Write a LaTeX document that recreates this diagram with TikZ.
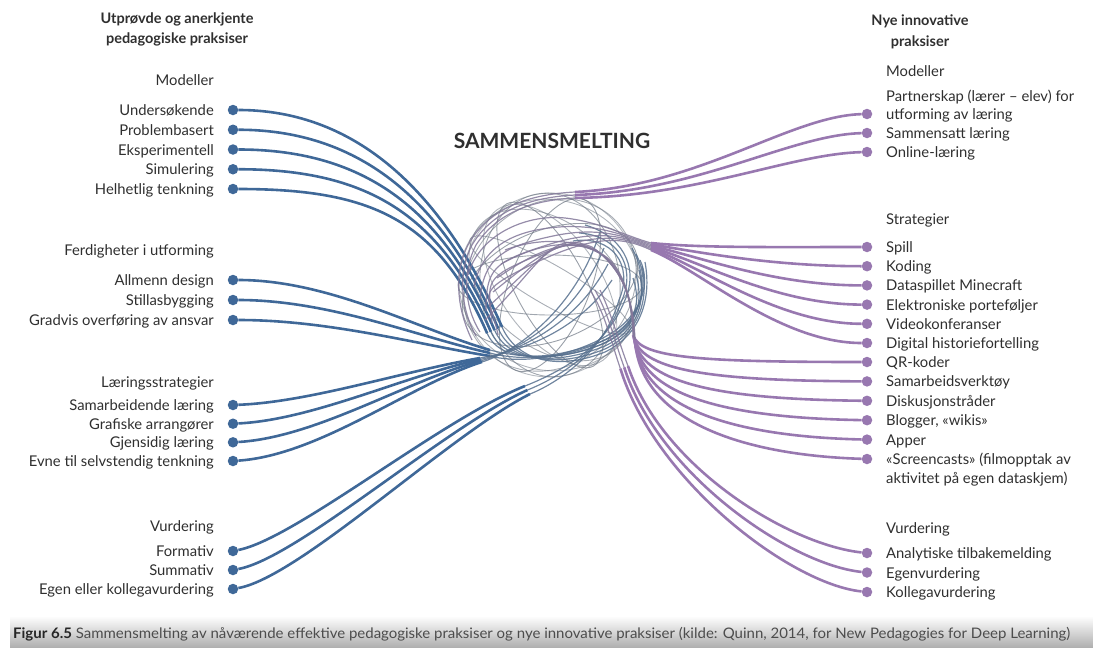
\documentclass[tikz,border=0pt]{standalone}
\usepackage{fontspec}
\setmainfont{Lato}
\usepackage{graphicx}

\definecolor{bluel}{HTML}{3F6898}
\definecolor{purpl}{HTML}{9878B0}
\definecolor{ink}{HTML}{2F2F2F}
\definecolor{globeg}{HTML}{6F7884}

\tikzset{
  lbl/.style={font=\fontsize{14.8}{17}\selectfont, text=ink, inner sep=0},
  lblL/.style={lbl, anchor=base east},
  lblR/.style={lbl, anchor=base west},
  head/.style={font=\fontsize{14.5}{20}\bfseries\selectfont, text=ink, align=center, inner sep=0},
  dotB/.style={circle, fill=bluel, inner sep=0, minimum size=10.5},
  dotP/.style={circle, fill=purpl, inner sep=0, minimum size=10.5},
  wireB/.style={draw=bluel, line width=2.6},
  wireP/.style={draw=purpl, line width=2.6},
  innerB/.style={draw=bluel!50!globeg, line width=1.2, opacity=0.85},
  innerP/.style={draw=purpl!50!globeg, line width=1.2, opacity=0.85},
  globe/.style={draw=globeg, line width=0.9},
}

\begin{document}
\begin{tikzpicture}[x=1pt,y=-1pt]
\useasboundingbox (0,0) rectangle (1093,648);

% caption band
\shade[top color=white, bottom color=black!32] (10,616) rectangle (1093,648);
\node[anchor=base west, inner sep=0, text=black!70, font=\fontsize{14.5}{17}\selectfont] (cap) at (13,638)
  {\resizebox{1057pt}{\height}{\textbf{\textcolor{black!85}{Figur 6.5}} Sammensmelting av nåværende effektive pedagogiske praksiser og nye innovative praksiser (kilde: Quinn, 2014, for New Pedagogies for Deep Learning)}};

% headings
\node[head] (hL) at (177,29) {Utprøvde og anerkjente\\pedagogiske praksiser};
\node[head, font=\fontsize{14.5}{21}\bfseries\selectfont] (hR) at (920,31.5) {Nye innovative\\praksiser};
\node[font=\fontsize{21}{24}\bfseries\selectfont, text=ink, inner sep=0] (title) at (552,141) {SAMMENSMELTING};

% left column
\node[lblL] (gLM) at (214,85.5) {Modeller};
\node[lblL] (gLF) at (214,255.5) {Ferdigheter i utforming};
\node[lblL] (gLS) at (214,387.5) {Læringsstrategier};
\node[lblL] (gLV) at (214,531.5) {Vurdering};

\foreach \i/\y/\t in {0/110/Undersøkende,1/129.75/Problembasert,2/149.5/Eksperimentell,3/169.25/Simulering,4/189/Helhetlig tenkning}
  {\node[dotB] (LM\i) at (233,\y) {}; \node[lblL] (tLM\i) at (214,\y+5.5) {\t};}
\foreach \i/\y/\t in {0/280/Allmenn design,1/300/Stillasbygging,2/320/Gradvis overføring av ansvar}
  {\node[dotB] (LF\i) at (233,\y) {}; \node[lblL] (tLF\i) at (214,\y+5.5) {\t};}
\foreach \i/\y/\t in {0/405/Samarbeidende læring,1/423.7/Grafiske arrangører,2/442.3/Gjensidig læring,3/461/Evne til selvstendig tenkning}
  {\node[dotB] (LS\i) at (233,\y) {}; \node[lblL] (tLS\i) at (214,\y+5.5) {\t};}
\foreach \i/\y/\t in {0/551/Formativ,1/570/Summativ,2/589/Egen eller kollegavurdering}
  {\node[dotB] (LV\i) at (233,\y) {}; \node[lblL] (tLV\i) at (214,\y+5.5) {\t};}

% right column
\node[lblR] (gRM) at (886,76.5) {Modeller};
\node[lblR] (tRMx) at (886,101.5) {Partnerskap (lærer – elev) for};
\node[lblR] (gRS) at (886,224.5) {Strategier};
\node[lblR] (tRSx) at (886,483.5) {aktivitet på egen dataskjem)};
\node[lblR] (gRV) at (886,533.5) {Vurdering};

\foreach \i/\y/\t in {0/114/utforming av læring,1/133/Sammensatt læring,2/152/Online-læring}
  {\node[dotP] (RM\i) at (867,\y) {}; \node[lblR] (tRM\i) at (886,\y+5.5) {\t};}
\foreach \i/\y/\t in {0/247/Spill,1/266.2/Koding,2/285.4/Dataspillet Minecraft,3/304.6/Elektroniske porteføljer,4/323.8/Videokonferanser,5/343/Digital historiefortelling}
  {\node[dotP] (RU\i) at (867,\y) {}; \node[lblR] (tRU\i) at (886,\y+5.5) {\t};}
\foreach \i/\y/\t in {0/362/QR-koder,1/381.4/Samarbeidsverktøy,2/400.8/Diskusjonstråder,3/420.2/{Blogger, «wikis»},4/439.6/Apper,5/459/«Screencasts» (filmopptak av}
  {\node[dotP] (RL\i) at (867,\y) {}; \node[lblR] (tRL\i) at (886,\y+5.5) {\t};}
\foreach \i/\y/\t in {0/553/Analytiske tilbakemelding,1/572.5/Egenvurdering,2/592/Kollegavurdering}
  {\node[dotP] (RV\i) at (867,\y) {}; \node[lblR] (tRV\i) at (886,\y+5.5) {\t};}

% the globe of interwoven arcs
\foreach \a/\ry/\op in {0/30/0.65,22/55/0.7,45/80/0.6,68/40/0.7,95/70/0.65,118/35/0.7,140/62/0.6,160/85/0.55,-30/20/0.6,80/88/0.5,-55/50/0.55}
  \draw[globe, opacity=\op, rotate around={\a:(550,285)}] (550,285) ellipse [x radius=92, y radius=\ry];

% left: Modeller
\foreach \i in {0,...,4} {
  \pgfmathsetmacro\ya{110+19.75*\i}
  \coordinate (lmE\i) at ({502-3.7*\i},{327+1.6*\i});
  \coordinate (lmZ\i) at ({645-3*\i},{262+4*\i});
  \draw[wireB] (LM\i) .. controls (370,\ya) and ({452-3.7*\i},{212+1.6*\i}) .. (lmE\i);
  \draw[innerB] (lmE\i) .. controls ({516-3.7*\i},{359+1.6*\i}) and (555,{372-3*\i}) .. (605,{352-3*\i})
     .. controls (640,{335-3*\i}) and ({652-3*\i},300) .. (lmZ\i);
}
% left: Ferdigheter i utforming
\foreach \i in {0,...,2} {
  \pgfmathsetmacro\ya{280+20*\i}
  \coordinate (lfE\i) at (490,{350+3*\i});
  \coordinate (lfZ\i) at ({632+4*\i},{248+6*\i});
  \draw[wireB] (LF\i) .. controls (330,\ya) and (420,{330+7.5*\i}) .. (lfE\i);
  \draw[innerB] (lfE\i) .. controls (520,{358+3*\i}) and (570,{362-2*\i}) .. (610,{340-3*\i})
     .. controls (640,{322-3*\i}) and (652,285) .. (lfZ\i);
}
% left: Laeringsstrategier
\foreach \i in {0,...,3} {
  \pgfmathsetmacro\ya{405+18.67*\i}
  \coordinate (lsE\i) at ({480+0.7*\i},{358+1.3*\i});
  \coordinate (lsZ\i) at ({612-4*\i},{280-16*\i});
  \draw[wireB] (LS\i) .. controls ({310+3.3*\i},{\ya-3-\i}) and ({400+3.3*\i},{372+4.3*\i}) .. (lsE\i);
  \draw[innerB] (lsE\i) .. controls (515,352) and (575,{335-8*\i}) .. (lsZ\i);
}
% left: Vurdering
\foreach \i in {0,...,2} {
  \pgfmathsetmacro\ya{551+19*\i}
  \coordinate (lvE\i) at ({525+2.5*\i},{386+4*\i});
  \coordinate (lvZ\i) at ({585-6*\i},{225+8*\i});
  \draw[wireB] (LV\i) .. controls ({295+2.5*\i},{\ya-12}) and ({440+5*\i},{420+7*\i}) .. (lvE\i);
  \draw[innerB] (lvE\i) .. controls ({555+2.5*\i},{374+4*\i}) and (605,350) .. ({625-3*\i},300)
     .. controls ({640-3*\i},265) and ({620-4*\i},235) .. (lvZ\i);
}

% right: Modeller
\foreach \i in {0,...,2} {
  \pgfmathsetmacro\ya{114+19*\i}
  \coordinate (rmE\i) at (575,{192+3*\i});
  \coordinate (rmZ\i) at ({472+4*\i},{340-4*\i});
  \draw[wireP] (RM\i) .. controls (790,{\ya+2}) and (700,{186+5*\i}) .. (rmE\i);
  \draw[innerP] (rmE\i) .. controls (535,{194+3*\i}) and ({490+4*\i},{205+3*\i}) .. ({468+4*\i},245)
     .. controls ({455+4*\i},270) and ({455+4*\i},305) .. (rmZ\i);
}
% right: Strategier, upper bundle
\foreach \i in {0,...,5} {
  \pgfmathsetmacro\ya{247+19.2*\i}
  \coordinate (ruE\i) at (651,{243+1.4*\i});
  \coordinate (ruZ\i) at ({468+6*\i},{275+12*\i});
  \draw[wireP] (RU\i) .. controls ({770+2*\i},\ya) and (700,{248+4.4*\i}) .. (ruE\i);
  \draw[innerP] (ruE\i) .. controls (626,{236+0.5*\i}) and (600,{222+2*\i}) .. ({565-6*\i},{218+9*\i})
     .. controls ({530-12*\i},{214+16*\i}) and ({480+2*\i},{232+12*\i}) .. (ruZ\i);
}
% right: Strategier, lower bundle
\foreach \i in {0,...,5} {
  \pgfmathsetmacro\ya{362+19.4*\i}
  \coordinate (rlE\i) at ({633+0.4*\i},{335+\i});
  \coordinate (rlZ\i) at ({505-4*\i},{250+14*\i});
  \draw[wireP] (RL\i) .. controls ({700+8*\i},{\ya-0.8*\i}) and (640,{358+12.4*\i}) .. (rlE\i);
  \draw[innerP] (rlE\i) .. controls ({632+0.4*\i},310) and (628,{282-2*\i}) .. ({612-4*\i},{262-3*\i})
     .. controls ({590-8*\i},{240-2*\i}) and (545,{235+5*\i}) .. (rlZ\i);
}
% right: Vurdering
\foreach \i in {0,...,2} {
  \pgfmathsetmacro\ya{553+19.5*\i}
  \coordinate (rvE\i) at ({628-3.8*\i},{366+1.3*\i});
  \coordinate (rvZ\i) at ({600-5*\i},290);
  \draw[wireP] (RV\i) .. controls (790,{\ya-8}) and ({662-3.8*\i},{468+6*\i}) .. (rvE\i);
  \draw[innerP] (rvE\i) .. controls ({618-3.8*\i},340) and ({612-3*\i},315) .. (rvZ\i);
}
\end{tikzpicture}
\end{document}
